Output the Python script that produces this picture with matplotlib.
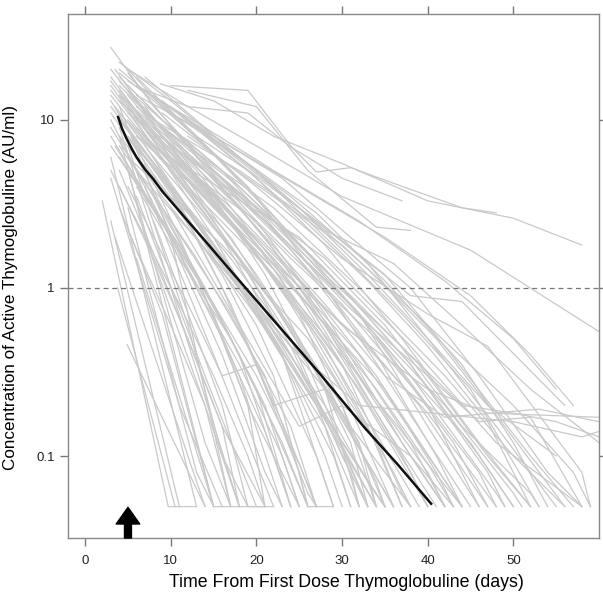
import matplotlib
matplotlib.use("Agg")
import matplotlib.pyplot as plt

plt.rcParams['font.family'] = ['Liberation Sans', 'DejaVu Sans']

# Individual patient trajectories: lists of (day, concentration AU/ml)
upper_lines = [
    [(10, 16), (19, 15), (24, 7), (27, 4.9), (31, 5.2), (36, 4.2), (44, 3.0), (48, 2.8)],
    [(6.2, 15.7), (12, 12), (19, 11), (24, 6.9), (30, 4.5), (37, 3.3)],
    [(8.8, 16.4), (15, 13), (22, 8), (30, 5.5), (40, 3.3), (50, 2.6), (58, 1.8)],
    [(12, 15), (20, 12), (26, 5), (34, 2.3), (38, 2.2)],
    [(5, 20), (12, 12), (20, 7), (30, 3.5), (45, 1.68), (60, 0.55)],
    [(4, 22), (10, 13), (18, 6), (25, 3), (33, 1.2), (40, 0.5), (47, 0.2), (55, 0.1)],
    [(3, 27), (8, 12), (15, 5), (22, 2.5), (30, 0.9), (38, 0.3), (45, 0.12), (50, 0.05)],
]
right_lines = [
    [(10, 6), (20, 2), (30, 0.6), (40, 0.25), (47, 0.18), (60, 0.17)],
    [(8, 9), (18, 3), (28, 0.8), (35, 0.3), (42, 0.17), (53, 0.19), (60, 0.16)],
    [(6, 5), (15, 1.5), (24, 0.45), (32, 0.2), (50, 0.16), (58, 0.13), (60, 0.14)],
    [(12, 10), (25, 3), (38, 0.9), (44, 0.83), (56, 0.2)],
    [(9, 11), (20, 4), (30, 1.5), (40, 0.7), (47, 0.45), (58, 0.08), (59, 0.05)],
    [(13, 6), (20, 3), (28, 1.2), (36, 0.5), (44, 0.2), (50, 0.18), (55, 0.16), (60, 0.13)],
    [(15, 5), (23, 2), (31, 0.75), (40, 0.3), (46, 0.16), (52, 0.17), (58, 0.05)],
]
middle_lines = [
    [(3, 18), (10, 6), (20, 1.2), (30, 0.2), (35, 0.05)],
    [(4, 14), (12, 4), (22, 0.8), (32, 0.12), (34, 0.05)],
    [(5, 12), (14, 3), (24, 0.5), (30, 0.1), (33, 0.05)],
    [(3.5, 20), (9, 8), (17, 2.5), (26, 0.6), (36, 0.08), (38, 0.05)],
    [(4, 10), (11, 3.5), (18, 1.0), (28, 0.15), (31, 0.05)],
    [(6, 9), (13, 4), (22, 1.3), (30, 0.3), (39, 0.05)],
    [(3, 15), (8, 7), (15, 2), (23, 0.4), (29, 0.05)],
    [(5, 16), (12, 7), (20, 2.5), (28, 0.7), (37, 0.12), (42, 0.05)],
    [(4, 7), (10, 2.5), (17, 0.7), (24, 0.15), (27, 0.05)],
    [(3, 11), (9, 4), (16, 1.2), (22, 0.3), (26, 0.05)],
    [(6, 13), (14, 5), (21, 2), (29, 0.5), (40, 0.07), (42, 0.05)],
    [(5, 8), (12, 2.8), (19, 0.9), (27, 0.2), (32, 0.05)],
    [(4, 17), (9, 9), (16, 3.5), (26, 0.8), (35, 0.15), (41, 0.05)],
    [(3, 9), (8, 3.5), (14, 1.0), (20, 0.25), (24, 0.05)],
    [(7, 10), (13, 5), (20, 1.8), (30, 0.35), (37, 0.06), (38, 0.05)],
    [(4, 6), (11, 1.8), (18, 0.4), (22, 0.1), (24, 0.05)],
    [(5, 19), (11, 8), (18, 3), (25, 1.1), (33, 0.25), (44, 0.05)],
    [(3, 13), (7, 6), (13, 2.2), (20, 0.6), (27, 0.1), (29, 0.05)],
    [(6, 7), (12, 3), (20, 0.8), (26, 0.25), (35, 0.05)],
    [(4, 11), (10, 5), (18, 1.5), (24, 0.45), (31, 0.08), (32, 0.05)],
    [(5, 6), (13, 1.5), (21, 0.3), (25, 0.08), (26, 0.05)],
    [(3, 16), (10, 5), (16, 2), (24, 0.4), (34, 0.05)],
    [(4, 9), (9, 4.5), (15, 1.8), (23, 0.4), (28, 0.1), (30, 0.05)],
    [(6, 18), (12, 9), (19, 4), (27, 1.2), (35, 0.3), (45, 0.05)],
    [(5, 10), (10, 5), (17, 2), (22, 0.8), (31, 0.15), (38, 0.05)],
    [(3, 8), (8, 3), (15, 0.7), (19, 0.2), (21, 0.05)],
    [(4, 13), (11, 6), (17, 2.8), (25, 0.9), (33, 0.2), (40, 0.05)],
    [(5, 14), (9, 8), (15, 3.5), (21, 1.2), (29, 0.2), (36, 0.05)],
    [(7, 12), (14, 4), (22, 1.5), (32, 0.4), (43, 0.06), (44, 0.05)],
    [(3, 12), (10, 4), (17, 1.5), (26, 0.35), (33, 0.05)],
    [(4, 15), (8, 8), (14, 4), (20, 1.8), (28, 0.6), (37, 0.1), (40, 0.05)],
    [(6, 11), (11, 5.5), (18, 2.2), (25, 0.7), (30, 0.2), (34, 0.05)],
    [(5, 9), (13, 2.5), (20, 0.8), (28, 0.25), (32, 0.05)],
    [(3.5, 7), (9, 2.5), (15, 0.8), (21, 0.2), (25, 0.05)],
    [(4, 18), (9, 10), (16, 5), (23, 2), (32, 0.7), (40, 0.15), (46, 0.05)],
    [(5, 13), (10, 6.5), (17, 3), (26, 1), (34, 0.3), (41, 0.08), (43, 0.05)],
    [(8, 14), (14, 7), (21, 3), (30, 1.0), (38, 0.35), (47, 0.08), (49, 0.05)],
    [(6, 16), (12, 10), (20, 4.5), (28, 1.8), (37, 0.5), (46, 0.12), (52, 0.05)],
    [(5, 11), (12, 6), (21, 2.5), (31, 0.8), (42, 0.2), (50, 0.06), (51, 0.05)],
    [(10, 12), (16, 7), (24, 3.5), (33, 1.4), (40, 0.5), (48, 0.15), (55, 0.05)],
    [(7, 15), (15, 8), (23, 4.5), (31, 2.0), (38, 1.0), (46, 0.3), (54, 0.08), (58, 0.05)],
    [(9, 13), (17, 6), (27, 2.5), (35, 1.2), (42, 0.45), (52, 0.1), (57, 0.05)],
    [(11, 11), (20, 5), (30, 1.6), (37, 0.7), (45, 0.25), (53, 0.05)],
    [(4, 20), (10, 11), (18, 6), (27, 2.8), (35, 1.1), (44, 0.35), (50, 0.12), (54, 0.05)],
    [(6, 8), (14, 3.5), (22, 1.4), (32, 0.5), (40, 0.18), (48, 0.05)],
    [(5, 4), (12, 0.8), (16, 0.3), (20, 0.35), (26, 0.06), (27, 0.05)],
    [(8, 6), (16, 1), (22, 0.2), (28, 0.25), (36, 0.05)],
    [(10, 3), (18, 0.6), (25, 0.15), (30, 0.2), (38, 0.1), (43, 0.05)],
    [(3, 20), (7, 11), (12, 5), (18, 2.2), (24, 0.8), (30, 0.25), (36, 0.05)],
    [(4, 16), (8, 10), (14, 5.5), (21, 2.5), (28, 1.0), (34, 0.4), (41, 0.1), (44, 0.05)],
    [(5, 15), (10, 9), (16, 4.5), (22, 2.2), (30, 0.9), (38, 0.3), (48, 0.06), (49, 0.05)],
    [(3.5, 12), (8, 6), (13, 3), (19, 1.3), (25, 0.5), (31, 0.12), (33, 0.05)],
    [(6, 12), (11, 7), (17, 3.8), (24, 1.7), (31, 0.6), (39, 0.2), (47, 0.05)],
    [(4, 8), (9, 4), (15, 1.6), (21, 0.6), (27, 0.2), (34, 0.05)],
    [(3, 7), (7, 3.5), (12, 1.5), (17, 0.5), (23, 0.12), (26, 0.05)],
    [(5, 20), (9, 12), (14, 7), (20, 3.5), (26, 1.6), (33, 0.6), (40, 0.2), (46, 0.08), (48, 0.05)],
    [(7, 18), (12, 11), (18, 6), (25, 3), (33, 1.3), (41, 0.5), (49, 0.15), (56, 0.05)],
    [(4, 10), (8, 5.5), (13, 2.5), (18, 1.1), (23, 0.4), (29, 0.1), (31, 0.05)],
    [(3, 14), (6, 9), (11, 4.5), (16, 2), (22, 0.8), (28, 0.28), (34, 0.07), (35, 0.05)],
    [(8, 8), (14, 4), (20, 1.8), (27, 0.7), (34, 0.25), (40, 0.09), (43, 0.05)],
    [(10, 9), (17, 4.5), (24, 2), (31, 0.9), (39, 0.35), (47, 0.1), (52, 0.05)],
    [(4, 19), (8, 13), (13, 8), (19, 5), (26, 2.4), (33, 1.1), (40, 0.45), (47, 0.16), (52, 0.05)],
    [(6, 10), (10, 6), (15, 3.2), (20, 1.6), (26, 0.65), (32, 0.25), (38, 0.08), (40, 0.05)],
    [(5, 7), (9, 3.5), (14, 1.7), (19, 0.8), (25, 0.3), (30, 0.11), (33, 0.05)],
    [(7, 7), (12, 3), (18, 1.1), (24, 0.4), (30, 0.12), (35, 0.05)],
    [(9, 4), (15, 1.6), (22, 0.55), (28, 0.2), (33, 0.07), (35, 0.05)],
    [(11, 6), (18, 2.5), (25, 1.0), (32, 0.35), (38, 0.12), (42, 0.05)],
    [(3, 17), (7, 9), (11, 5), (17, 2.4), (23, 1.0), (28, 0.45), (33, 0.15), (37, 0.05)],
]
low_lines = [
    [(2, 3.3), (9.7, 0.05), (13, 0.05)],
    [(3.8, 1.0), (10.5, 0.05)],
    [(4.9, 0.46), (14, 0.05)],
    [(3, 6), (13, 0.05)],
    [(4, 8), (15, 0.05)],
    [(3, 4.5), (11, 0.2), (16, 0.05)],
    [(5, 5), (14, 0.12), (17, 0.05)],
    [(4, 12), (10, 2), (17, 0.05)],
    [(5, 3), (13, 0.08), (15, 0.05), (18, 0.05)],
    [(3.5, 2), (12, 0.1), (14, 0.05)],
    [(6, 1.5), (15, 0.05)],
    [(4, 9), (10, 1), (18, 0.05)],
    [(3, 2.5), (11, 0.05)],
    [(5, 7), (12, 0.6), (16, 0.1), (19, 0.05)],
    [(6, 3.5), (14, 0.3), (20, 0.05)],
    [(4, 5), (9, 1.2), (16, 0.15), (21, 0.05)],
    [(7, 4), (15, 0.4), (22, 0.05)],
    [(5, 9), (11, 2), (18, 0.3), (23, 0.05)],
    [(8, 2.5), (16, 0.2), (19, 0.05), (22, 0.05)],
    [(3, 10), (9, 2.5), (16, 0.4), (21, 0.08), (23, 0.05)],
    [(6, 6), (13, 1.2), (19, 0.2), (25, 0.05)],
    [(9, 5), (17, 0.8), (24, 0.12), (27, 0.05)],
    [(4, 3), (9, 0.7), (13, 0.12), (15, 0.05)],
    [(7, 2), (14, 0.2), (17, 0.05)],
    [(5, 5), (10, 2), (15, 0.8), (20, 0.3), (25, 0.09), (27, 0.05)],
    [(6, 4), (11, 1.5), (17, 0.5), (22, 0.15), (26, 0.05), (29, 0.05)],
    [(3, 5), (7, 2), (11, 0.8), (15, 0.3), (19, 0.1), (21, 0.05)],
    [(4, 4), (8, 1.5), (12, 0.5), (16, 0.15), (18, 0.05), (21, 0.05)],
    [(5, 2.2), (10, 0.6), (14, 0.2), (17, 0.07), (18, 0.05)],
    [(8, 3.5), (13, 1.0), (18, 0.35), (23, 0.1), (25, 0.05)],
    [(10, 2), (16, 0.5), (21, 0.14), (24, 0.05)],
]
late_lines = [
    [(5, 12), (12, 4), (22, 1.2), (32, 0.3), (40, 0.08), (42, 0.05)],
    [(6, 9), (15, 3), (25, 0.9), (35, 0.25), (44, 0.05)],
    [(4, 14), (14, 5), (24, 1.5), (34, 0.5), (43, 0.12), (47, 0.05)],
    [(7, 11), (18, 4), (28, 1.3), (38, 0.35), (46, 0.1), (50, 0.05)],
    [(8, 7), (20, 2.5), (30, 0.8), (40, 0.2), (46, 0.05)],
    [(5, 6), (16, 1.8), (26, 0.5), (34, 0.12), (37, 0.05)],
    [(9, 9), (22, 3), (32, 1), (42, 0.3), (50, 0.1), (56, 0.05)],
    [(6, 8), (25, 2), (35, 0.6), (44, 0.15), (52, 0.06), (53, 0.05)],
    [(10, 7), (28, 1.5), (38, 0.45), (48, 0.12), (58, 0.05)],
    [(12, 8), (30, 1.8), (40, 0.6), (50, 0.2), (57, 0.08), (59, 0.05)],
    [(6, 14), (15, 8), (25, 4), (35, 2), (45, 0.9), (52, 0.4), (57, 0.2)],
    [(5, 17), (14, 9), (22, 5), (32, 2.5), (42, 1.1), (50, 0.5), (55, 0.25)],
    [(8, 10), (18, 5), (28, 2.2), (36, 1.4), (44, 0.6), (52, 0.25), (60, 0.12)],
]

# Population mean (model) curve
mean_days = [3.85, 4.3, 4.8, 5.4, 6.0, 7.0, 8.0, 9.0, 10.5, 12.0, 14.0, 16.0, 19.0,
             23.0, 27.4, 32.6, 36.5, 40.4]
mean_vals = [10.4, 8.9, 7.8, 6.8, 6.0, 5.07, 4.42, 3.76, 3.07, 2.50, 1.91, 1.45, 0.966,
             0.562, 0.309, 0.148, 0.089, 0.052]

x_ticks = [0, 10, 20, 30, 40, 50]
y_ticks = [0.1, 1, 10]
y_ticklabels = ['0.1', '1', '10']
reference_level = 1
arrow_day = 5

fig = plt.figure(figsize=(6.03, 5.93), dpi=100)
ax = fig.add_axes([0.1128, 0.0927, 0.9934 - 0.1128, 0.9764 - 0.0927])
ax.set_yscale('log')

for group in (upper_lines, right_lines, middle_lines, low_lines, late_lines):
    for traj in group:
        xs = [p[0] for p in traj]
        ys = [p[1] for p in traj]
        ax.plot(xs, ys, color='#c9c9c9', lw=0.9, solid_joinstyle='miter', zorder=2)

ax.plot(mean_days, mean_vals, color='#111111', lw=1.8, zorder=4,
        solid_joinstyle='round')
ax.axhline(reference_level, color='#777777', lw=0.9, ls=(0, (4, 3)), zorder=3)

ax.set_xlim(-2, 60)
ax.set_ylim(0.0325, 42.7)

ax.annotate('', xy=(arrow_day, 0.0495), xytext=(arrow_day, 0.0325),
            arrowprops=dict(width=5.0, headwidth=17, headlength=12,
                            color='black', shrink=0),
            annotation_clip=False, zorder=5)

ax.set_xticks(x_ticks)
ax.set_yticks(y_ticks)
ax.set_yticklabels(y_ticklabels)
ax.yaxis.set_minor_locator(matplotlib.ticker.NullLocator())
ax.tick_params(axis='both', which='major', direction='out', length=6, width=1,
               color='#777777', labelsize=9.5, labelcolor='#222222',
               top=True, right=True, labeltop=False, labelright=False)
ax.tick_params(axis='x', pad=6)
for s in ax.spines.values():
    s.set_color('#888888')
    s.set_linewidth(1.0)

ax.set_xlabel('Time From First Dose Thymoglobuline (days)', fontsize=12.8)
ax.set_ylabel('Concentration of Active Thymoglobuline (AU/ml)', fontsize=12.3)
ax.xaxis.set_label_coords(0.524, -0.068)
ax.yaxis.set_label_coords(-0.095, 0.479)

fig.savefig('out.png', dpi=100)
